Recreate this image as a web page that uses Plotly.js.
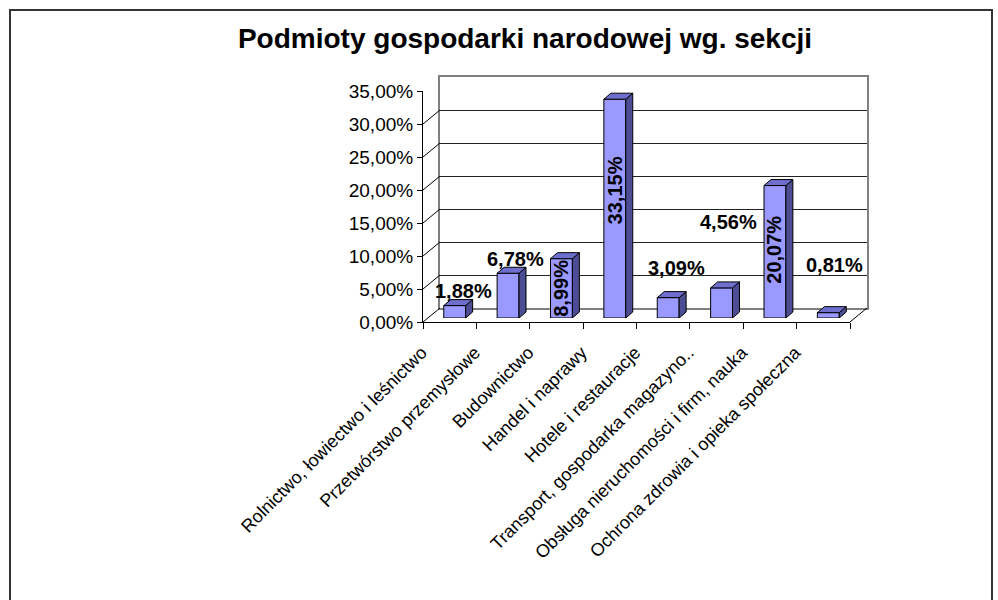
<!DOCTYPE html>
<html>
<head>
<meta charset="utf-8">
<script src="https://cdn.plot.ly/plotly-3.0.1.min.js"></script>
<style>
  html, body { margin: 0; padding: 0; background: #ffffff; }
  #wrap { position: relative; width: 998px; height: 600px; overflow: hidden; }
  #chart { position: absolute; left: 0; top: 0; width: 998px; height: 600px; }
  #frame { position: absolute; left: 9px; top: 9px; width: 980px; height: 640px;
           border: 2px solid #333333; pointer-events: none; }
</style>
</head>
<body>
<div id="wrap"><div id="chart"></div><div id="frame"></div></div>
<script>
// ---- data ----
const categories = [
  "Rolnictwo, łowiectwo i leśnictwo",
  "Przetwórstwo przemysłowe",
  "Budownictwo",
  "Handel i naprawy",
  "Hotele i restauracje",
  "Transport, gospodarka magazyno..",
  "Obsługa nieruchomości i firm, nauka",
  "Ochrona zdrowia i opieka społeczna"
];
const shares = [0.0188, 0.0678, 0.0899, 0.3315, 0.0309, 0.0456, 0.2007, 0.0081];
const yTicks = [0, 0.05, 0.10, 0.15, 0.20, 0.25, 0.30, 0.35];
const chartTitle = "Podmioty gospodarki narodowej wg. sekcji";

// ---- geometry / style (pixels) ----
const W = 998, H = 600;
const front = { xL: 423, xR: 850, yBot: 322, yTop: 91 };
const backOff = { dx: 17, dy: 14 };
const barOff = { dx: 5, dy: 4 };
const depthPx = { dx: 7, dy: 6 };
const yMax = 0.35;
const barWidth = 0.41;
const FONT = "Liberation Sans, Arial, sans-serif";
// label placement: [mode, xshift, yshift]
const labelPlace = [
  ["top", 9, 15], ["top", 7, 14], ["mid", 0, 0], ["mid", 0, 18],
  ["top", 8, 30], ["top", 7, 66], ["mid", -1, 2], ["top", 6, 48]
];

function dom(a, b, total) { return [a / total, b / total]; }
const pxPerUnitY = (front.yBot - front.yTop) / yMax;
const pxPerCat = (front.xR - front.xL) / categories.length;

const idx = categories.map((c, i) => i);
const fmt = v => (v * 100).toFixed(2).replace('.', ',') + '%';

// front faces
const traces = [{
  type: 'bar', x: idx, y: shares, xaxis: 'x3', yaxis: 'y3', width: barWidth,
  marker: { color: '#9999FF', line: { color: '#000000', width: 1 } },
  hoverinfo: 'skip', showlegend: false
}];
// top & side faces
const ddx = depthPx.dx / pxPerCat, ddy = depthPx.dy / pxPerUnitY, hw = barWidth / 2;
const topX = [], topY = [], sideX = [], sideY = [];
shares.forEach((v, i) => {
  topX.push(i - hw, i - hw + ddx, i + hw + ddx, i + hw, i - hw, null);
  topY.push(v, v + ddy, v + ddy, v, v, null);
  sideX.push(i + hw, i + hw + ddx, i + hw + ddx, i + hw, i + hw, null);
  sideY.push(0, ddy, v + ddy, v, 0, null);
});
traces.push({ type: 'scatter', mode: 'lines', x: sideX, y: sideY, xaxis: 'x3', yaxis: 'y3',
  fill: 'toself', fillcolor: '#4D4D96', line: { color: '#000000', width: 1 },
  hoverinfo: 'skip', showlegend: false, connectgaps: false });
traces.push({ type: 'scatter', mode: 'lines', x: topX, y: topY, xaxis: 'x3', yaxis: 'y3',
  fill: 'toself', fillcolor: '#6E6ECF', line: { color: '#000000', width: 1 },
  hoverinfo: 'skip', showlegend: false, connectgaps: false });
// front category axis carrier (invisible)
traces.push({ type: 'scatter', mode: 'markers', x: categories, y: shares.map(() => null),
  xaxis: 'x', yaxis: 'y', hoverinfo: 'skip', showlegend: false });
// back wall carrier
traces.push({ type: 'scatter', mode: 'markers', x: [0], y: [null],
  xaxis: 'x2', yaxis: 'y2', hoverinfo: 'skip', showlegend: false });

// annotations (data labels)
const annotations = shares.map((v, i) => {
  const p = labelPlace[i];
  const a = { xref: 'x3', yref: 'y3', x: i, showarrow: false,
    text: fmt(v), font: { family: FONT, size: 20, color: '#000000', weight: 'bold' },
    xanchor: 'center', yanchor: 'middle', borderpad: 0,
    xshift: p[1], yshift: p[2] };
  if (p[0] === 'mid') { a.y = v / 2; a.textangle = -90; }
  else { a.y = v; }
  return a;
});

// side-wall / floor diagonals
const backDyUnits = backOff.dy / pxPerUnitY;
const shapes = yTicks.map(t => ({
  type: 'line', xref: 'paper', yref: 'y',
  x0: front.xL / W, x1: (front.xL + backOff.dx) / W,
  y0: t, y1: t + backDyUnits,
  line: { color: (t === yMax) ? '#808080' : '#000000', width: 1 }
}));
shapes.push({ type: 'line', xref: 'paper', yref: 'y',
  x0: front.xR / W, x1: (front.xR + backOff.dx) / W, y0: 0, y1: backDyUnits,
  line: { color: '#000000', width: 1 } });

const layout = {
  width: W, height: H,
  margin: { l: 0, r: 0, t: 0, b: 0 },
  paper_bgcolor: '#ffffff', plot_bgcolor: 'rgba(0,0,0,0)',
  separators: ', ',
  showlegend: false,
  title: { text: chartTitle, x: 525 / W, xanchor: 'center', xref: 'paper',
    y: 1 - 38 / H, yanchor: 'middle', yref: 'container',
    font: { family: FONT, size: 28, color: '#000000', weight: 'bold' } },
  xaxis: { domain: dom(front.xL, front.xR, W), anchor: 'y', type: 'category',
    range: [-0.5, categories.length - 0.5], showline: true, linecolor: '#000000', linewidth: 1,
    ticks: 'outside', tickson: 'boundaries', ticklen: 6, tickcolor: '#000000',
    tickangle: -45, showgrid: false, zeroline: false,
    ticklabelshift: -28, ticklabelstandoff: 12,
    tickfont: { family: FONT, size: 18, color: '#000000' } },
  yaxis: { domain: dom(H - front.yBot, H - front.yTop, H), anchor: 'x',
    range: [0, yMax], tickvals: yTicks, tickformat: '.2%',
    showline: true, linecolor: '#000000', linewidth: 1,
    ticks: 'outside', ticklen: 5, tickcolor: '#000000', showgrid: false, zeroline: false,
    tickfont: { family: FONT, size: 19, color: '#000000' } },
  xaxis2: { domain: dom(front.xL + backOff.dx, front.xR + backOff.dx, W), anchor: 'y2',
    range: [0, 1], showline: true, mirror: true, linecolor: '#808080', linewidth: 2,
    showticklabels: false, ticks: '', showgrid: false, zeroline: false },
  yaxis2: { domain: dom(H - front.yBot + backOff.dy, H - front.yTop + backOff.dy, H), anchor: 'x2',
    range: [0, yMax], tickvals: yTicks, showgrid: true, gridcolor: '#222222', gridwidth: 1,
    showline: true, mirror: true, linecolor: '#808080', linewidth: 2,
    showticklabels: false, ticks: '', zeroline: false },
  xaxis3: { domain: dom(front.xL + barOff.dx, front.xR + barOff.dx, W), anchor: 'y3',
    range: [-0.5, categories.length - 0.5], visible: false, fixedrange: true },
  yaxis3: { domain: dom(H - front.yBot + barOff.dy, H - front.yTop + barOff.dy, H), anchor: 'x3',
    range: [0, yMax], visible: false, fixedrange: true },
  annotations: annotations,
  shapes: shapes
};

Plotly.newPlot('chart', traces, layout, { staticPlot: true, displayModeBar: false });
</script>
</body>
</html>
